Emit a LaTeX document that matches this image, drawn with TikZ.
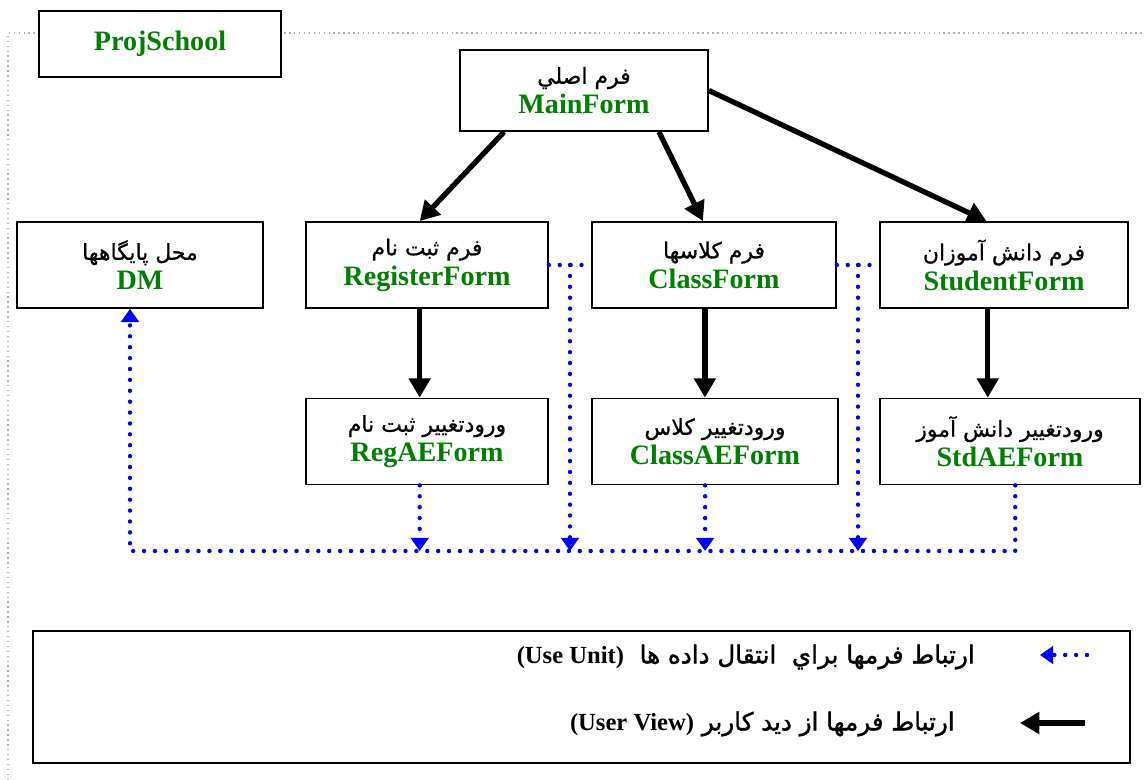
\documentclass[tikz,border=0pt]{standalone}
\usepackage{fontspec}
\setmainfont{Liberation Serif}
\newfontfamily\fafont[Script=Arabic,FakeBold=0.8]{DejaVu Sans}
\newfontfamily\fabfont[Script=Arabic,FakeBold=1.5]{DejaVu Sans}
\TeXXeTstate=1
\usetikzlibrary{arrows.meta,calc}

\definecolor{formgreen}{RGB}{0,128,0}
\definecolor{useblue}{RGB}{0,0,255}

\newcommand{\fa}[1]{{\fafont\fontsize{12.5}{17}\selectfont\beginR #1\endR}}
\newcommand{\en}[1]{{\bfseries\color{formgreen}#1}}
\newcommand{\lat}[1]{\beginL{\rmfamily\bfseries #1}\endL}

\tikzset{
    formbox/.style={shape=rectangle, draw=black, line width=1pt, fill=white, inner sep=0pt,
        align=center, minimum height=1.72cm, font=\fontsize{16}{17}\selectfont},
    userarrow/.style={line width=3pt, -{Triangle[width=12pt,length=11pt]}},
    useline/.style={useblue, line width=2.5pt, line cap=round, dash pattern=on 0pt off 6.2pt},
    usearrow/.style={useline, -{Triangle[width=10pt,length=7.5pt]}},
    keytext/.style={anchor=east, inner sep=0pt, font=\fabfont\fontsize{14}{16}\selectfont},
}

\begin{document}
\begin{tikzpicture}[x=0.02cm, y=-0.02cm]

    \useasboundingbox (0,0) rectangle (1144,780);
    \draw[gray!60, dotted, line width=0.8pt] (8,780) -- (8,33) -- (1144,33);

    % forms
    \node[formbox, minimum width=4.84cm, minimum height=1.32cm] (proj) at (160,44) {\en{ProjSchool}};
    \node[formbox, minimum width=4.96cm, minimum height=1.62cm] (main) at (584,90.5) {\fa{فرم اصلي}\\\en{MainForm}};

    \node[formbox, minimum width=4.92cm] (dm) at (140,265) {\fa{محل پايگاهها}\\\en{DM}};
    \node[formbox, minimum width=4.84cm] (reg) at (427,265) {\fa{فرم ثبت نام}\\\en{RegisterForm}};
    \node[formbox, minimum width=4.88cm] (cls) at (714,265) {\fa{فرم کلاسها}\\\en{ClassForm}};
    \node[formbox, minimum width=4.96cm] (std) at (1004,265) {\fa{فرم دانش آموزان}\\\en{StudentForm}};

    \node[formbox, minimum width=4.84cm] (regae) at (427,441.5) {\fa{ورودتغيير ثبت نام}\\\en{RegAEForm}};
    \node[formbox, minimum width=4.92cm] (clsae) at (715,441.5) {\fa{ورودتغيير کلاس}\\\en{ClassAEForm}};
    \node[formbox, minimum width=5.2cm] (stdae) at (1010,441.5) {\fa{ورودتغيير دانش آموز}\\\en{StdAEForm}};

    % user view
    \draw[userarrow] ($(main.south west)!.18!(main.south east)$) -- ($(reg.north west)!.47!(reg.north east)$);
    \draw[userarrow] ($(main.south west)!.8!(main.south east)$) -- ($(cls.north west)!.455!(cls.north east)$);
    \draw[userarrow] (main.east) -- ($(std.north west)!.43!(std.north east)$);

    \draw[userarrow] ($(reg.south west)!.47!(reg.south east)$) coordinate (r1) -- (r1 |- regae.north);
    \draw[userarrow] ($(cls.south west)!.463!(cls.south east)$) coordinate (c1) -- (c1 |- clsae.north);
    \draw[userarrow] ($(std.south west)!.435!(std.south east)$) coordinate (s1) -- (s1 |- stdae.north);

    % use unit
    \coordinate (busL) at (130,551);
    \draw[usearrow] ($(stdae.south west)!.52!(stdae.south east)$) |- (busL) -- (busL |- dm.south);
    \draw[usearrow] ($(regae.south west)!.47!(regae.south east)$) coordinate (r2) -- (r2 |- busL);
    \draw[usearrow] ($(clsae.south west)!.46!(clsae.south east)$) coordinate (c2) -- (c2 |- busL);

    \draw[useline] (reg.east) -- coordinate (mid1) (cls.west);
    \draw[useline] (cls.east) -- coordinate (mid2) (std.west);
    \draw[usearrow] (mid1) -- (mid1 |- busL);
    \draw[usearrow] (mid2) -- (mid2 |- busL);

    % legend
    \node[draw=black, line width=1pt, inner sep=0pt, minimum width=21.94cm, minimum height=2.64cm] (legend) at (581.5,697) {};
    \node[keytext] (keyuse) at (975,657) {\beginR ارتباط فرمها براي\ \ انتقال داده ها\ \ \lat{(Use Unit)}\endR};
    \node[keytext] (keyuser) at (955,724) {\beginR ارتباط فرمها از ديد کاربر \lat{(User View)}\endR};

    \coordinate (k1a) at (1087,655);
    \coordinate (k1b) at (1040,655);
    \draw[usearrow] (k1a) -- (k1b);
    \coordinate (k2a) at (1085,723);
    \coordinate (k2b) at (1020,723);
    \draw[userarrow] (k2a) -- (k2b);

\end{tikzpicture}
\end{document}
